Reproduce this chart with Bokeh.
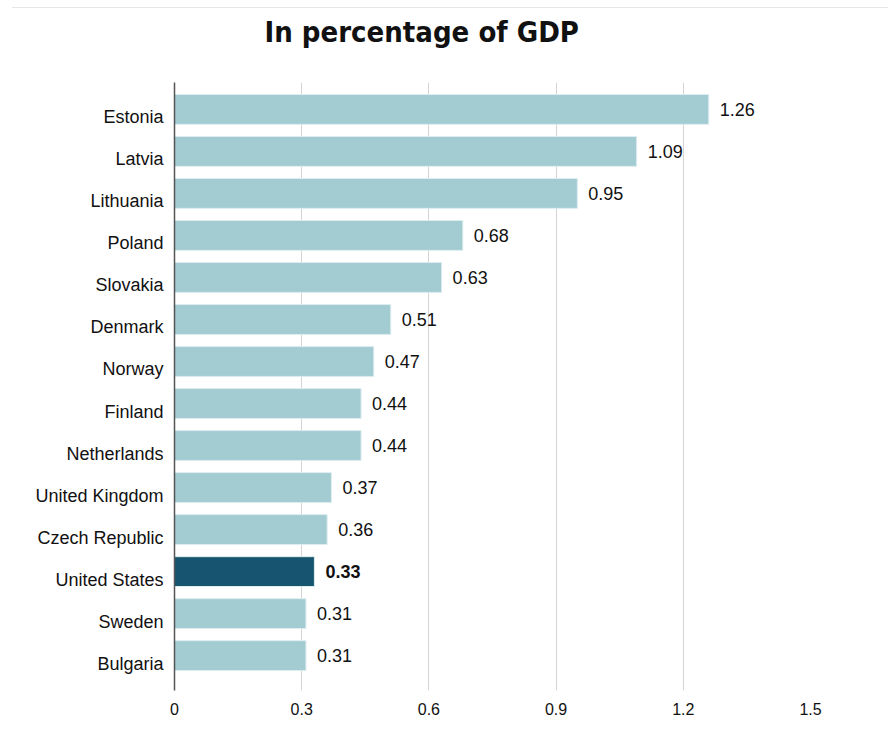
from bokeh.plotting import figure
from bokeh.models import ColumnDataSource, Range1d, FixedTicker, Div, CustomJSTickFormatter
from bokeh.layouts import column
from bokeh.core.properties import value
from bokeh.embed import file_html
from bokeh.resources import INLINE

countries = ["Estonia", "Latvia", "Lithuania", "Poland", "Slovakia", "Denmark", "Norway",
             "Finland", "Netherlands", "United Kingdom", "Czech Republic", "United States",
             "Sweden", "Bulgaria"]
values = [1.26, 1.09, 0.95, 0.68, 0.63, 0.51, 0.47, 0.44, 0.44, 0.37, 0.36, 0.33, 0.31, 0.31]
labels = ["1.26", "1.09", "0.95", "0.68", "0.63", "0.51", "0.47", "0.44", "0.44", "0.37",
          "0.36", "0.33", "0.31", "0.31"]
highlight = "United States"
x_ticks = [0, 0.3, 0.6, 0.9, 1.2, 1.5]
x_tick_labels = ["0", "0.3", "0.6", "0.9", "1.2", "1.5"]

pos = list(range(len(countries)))
colors = ["#17546f" if c == highlight else "#a2cbd2" for c in countries]
styles = ["bold" if c == highlight else "normal" for c in countries]

src = ColumnDataSource(dict(y=pos, v=values, c=colors, lab=labels, st=styles))

FONT = "Liberation Sans"
LABEL_SHIFT = 0.19  # country labels sit a little below bar centres

p = figure(width=888, height=771, output_backend="svg", toolbar_location=None,
           x_range=Range1d(0, 1.5), y_range=Range1d(len(pos) - 1 + 0.83, -0.64),
           min_border_left=174, min_border_right=78, min_border_top=102, min_border_bottom=60,
           title="In percentage of GDP", margin=(-29, 0, 0, 0))
p.outline_line_color = None
p.background_fill_color = "white"
p.border_fill_color = None

p.title.text_font = "DejaVu Sans Condensed, Roboto"
p.title.text_font_size = "29px"
p.title.text_font_style = "bold"
p.title.text_color = "#111111"
p.title.align = "left"
p.title.offset = 90
p.title.standoff = 67

p.hbar(y="y", right="v", left=0, height=0.71, fill_color="c", line_color="#dcecef",
       line_width=1, source=src)

p.text(x="v", y="y", text="lab", x_offset=11, text_baseline="middle", text_align="left",
       text_font=value(FONT), text_font_size="18px", text_font_style="st",
       text_color="#111111", source=src)

p.xaxis.ticker = FixedTicker(ticks=x_ticks)
p.xaxis.major_label_overrides = {t: l for t, l in zip(x_ticks, x_tick_labels)}
p.xaxis.axis_line_color = None
p.xaxis.major_tick_line_color = None
p.xaxis.minor_tick_line_color = None
p.xaxis.major_label_text_font = FONT
p.xaxis.major_label_text_font_size = "16px"
p.xaxis.major_label_text_color = "#111111"
p.xaxis.major_label_standoff = 6

p.yaxis.ticker = FixedTicker(ticks=[i + LABEL_SHIFT for i in pos])
p.yaxis.formatter = CustomJSTickFormatter(
    args=dict(names=countries, shift=LABEL_SHIFT),
    code="return names[Math.round(tick - shift)];")
p.yaxis.axis_line_color = "#555555"
p.yaxis.axis_line_width = 1.5
p.yaxis.major_tick_line_color = None
p.yaxis.minor_tick_line_color = None
p.yaxis.major_label_text_font = FONT
p.yaxis.major_label_text_font_size = "18px"
p.yaxis.major_label_text_color = "#111111"
p.yaxis.major_label_standoff = 5

p.ygrid.grid_line_color = None
p.xgrid.ticker = FixedTicker(ticks=x_ticks[1:])
p.xgrid.grid_line_color = "#d4d4d4"
p.xgrid.grid_line_width = 1

top = Div(text="", width=876, height=8, margin=0,
          styles={"border-bottom": "1px solid #e6e6e6", "margin-left": "12px"})

layout = column(top, p, spacing=0)
open("out.html", "w").write(file_html(layout, INLINE))
